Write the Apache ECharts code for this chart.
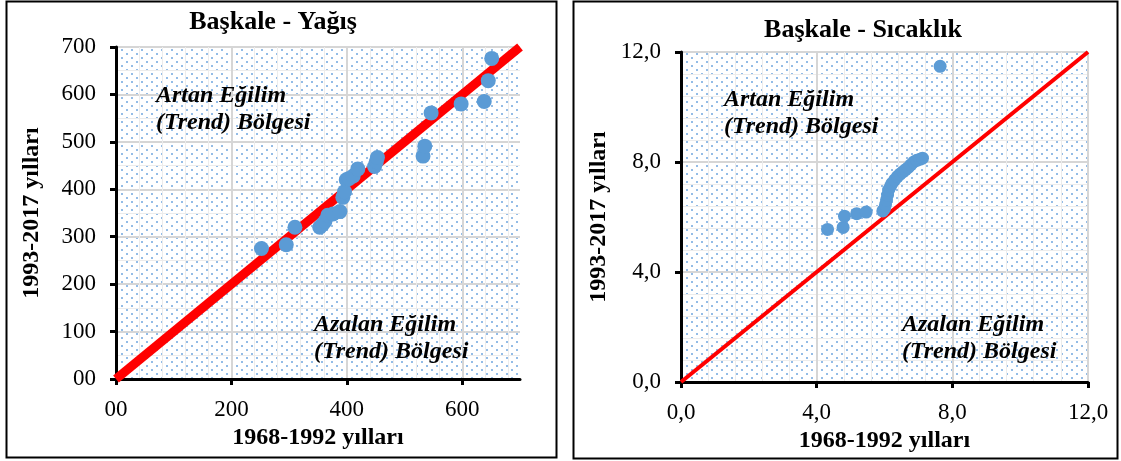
<!DOCTYPE html>
<html>
<head>
<meta charset="utf-8">
<script src="https://cdn.jsdelivr.net/npm/echarts@6/dist/echarts.min.js"></script>
<style>
html, body { margin: 0; padding: 0; background: #fff; }
#chart { width: 1121px; height: 461px; }
</style>
</head>
<body>
<div id="chart"></div>
<script>
// Başkale: sorted annual precipitation (mm), 1968-1992 vs 1993-2017
const rainFirstHalf  = [252, 295, 310, 353, 358, 362, 367, 376, 388, 393, 396, 399, 404, 411, 419, 448, 451, 453, 532, 535, 546, 598, 638, 645, 651];
const rainSecondHalf = [275, 283, 320, 320, 326, 332, 345, 348, 353, 383, 395, 420, 423, 428, 443, 448, 458, 467, 470, 491, 561, 580, 585, 629, 676];

// Başkale: sorted annual mean temperature (°C), 1968-1992 vs 1993-2017
const tempFirstHalf  = [4.32, 4.78, 4.82, 5.18, 5.46, 5.95, 6.00, 6.03, 6.06, 6.09, 6.12, 6.17, 6.22, 6.30, 6.38, 6.46, 6.55, 6.62, 6.70, 6.78, 6.86, 6.95, 7.05, 7.12, 7.64];
const tempSecondHalf = [5.55, 5.62, 6.03, 6.12, 6.18, 6.22, 6.30, 6.45, 6.62, 6.80, 6.98, 7.10, 7.22, 7.35, 7.47, 7.56, 7.65, 7.72, 7.80, 7.90, 8.00, 8.06, 8.10, 8.14, 11.48];

// axis ranges and tick positions
const rainMax = 700;
const rainXTicks = [0, 200, 400, 600];
const rainYTicks = [0, 100, 200, 300, 400, 500, 600, 700];
const tempMax = 12;
const tempTicks = [0, 4, 8, 12];

const titles = ['Başkale - Yağış', 'Başkale - Sıcaklık'];
const xName = '1968-1992 yılları';
const yName = '1993-2017 yılları';
const upperZone = ['Artan Eğilim', '(Trend) Bölgesi'];
const lowerZone = ['Azalan Eğilim', '(Trend) Bölgesi'];

const SERIF = '"Liberation Serif", "Times New Roman", serif';

// fine dotted fill for the plotting area
function dotPattern() {
  const w = 10, h = 8;
  const c = document.createElement('canvas');
  c.width = w; c.height = h;
  const g = c.getContext('2d');
  g.fillStyle = '#ffffff';
  g.fillRect(0, 0, w, h);
  g.fillStyle = '#94bce6';
  g.fillRect(1, 1, 2, 2);
  g.fillRect(6, 5, 2, 2);
  return { image: c, repeat: 'repeat' };
}

const pairs = (a, b) => a.map((v, i) => [v, b[i]]);
const rainLabel = v => (v === 0 ? '00' : String(v));
const tempLabel = v => v.toFixed(1).replace('.', ',');

function valueAxis(gridIndex, max, interval, ticks, minorSplit, fmt, name, isY, nameGap) {
  return {
    type: 'value', gridIndex, min: 0, max, interval,
    name, nameLocation: 'middle', nameGap, nameRotate: isY ? 90 : 0,
    nameTextStyle: { fontFamily: SERIF, fontWeight: 'bold', fontSize: 24, color: '#000' },
    axisLine: { show: true, onZero: false, lineStyle: { color: '#000', width: 3 } },
    axisTick: { show: true, inside: false, length: 6, customValues: ticks, lineStyle: { color: '#000', width: 3 } },
    axisLabel: { customValues: ticks, formatter: fmt, margin: isY ? 20 : 19,
      fontFamily: SERIF, fontSize: 23, color: '#000' },
    splitLine: { show: true, lineStyle: { color: '#d6d6d6', width: 2 } },
    minorTick: { show: false, splitNumber: minorSplit },
    minorSplitLine: { show: true, lineStyle: { color: '#ececec', width: 1 } }
  };
}

function zoneText(x, y, lines) {
  return {
    type: 'text', left: x, top: y, z: 50,
    style: {
      text: lines.join('\n'), fill: '#000',
      font: 'italic bold 24px ' + SERIF, lineHeight: 27
    }
  };
}

const chart = echarts.init(document.getElementById('chart'), null, { renderer: 'canvas' });
chart.setOption({
  animation: false,
  backgroundColor: '#fff',
  title: [
    { text: titles[0], left: 268, top: 4, textAlign: 'center',
      textStyle: { fontFamily: SERIF, fontWeight: 'bold', fontSize: 26, color: '#000' } },
    { text: titles[1], left: 858, top: 12, textAlign: 'center',
      textStyle: { fontFamily: SERIF, fontWeight: 'bold', fontSize: 26, color: '#000' } }
  ],
  grid: [
    { left: 116, top: 47, width: 404, height: 332, show: true, borderWidth: 0, backgroundColor: dotPattern() },
    { left: 681, top: 52, width: 407, height: 330, show: true, borderWidth: 0, backgroundColor: dotPattern() }
  ],
  xAxis: [
    valueAxis(0, rainMax, 200, rainXTicks, 5, rainLabel, xName, false, 47),
    valueAxis(1, tempMax, 4, tempTicks, 5, tempLabel, xName, false, 45)
  ],
  yAxis: [
    valueAxis(0, rainMax, 100, rainYTicks, 2, rainLabel, yName, true, 72),
    valueAxis(1, tempMax, 4, tempTicks, 5, tempLabel, yName, true, 70)
  ],
  graphic: [
    { type: 'rect', shape: { x: 6.5, y: 1.5, width: 550, height: 456 },
      style: { fill: 'none', stroke: '#000', lineWidth: 2 }, z: 100 },
    { type: 'rect', shape: { x: 573.5, y: 1.5, width: 544, height: 457 },
      style: { fill: 'none', stroke: '#000', lineWidth: 2 }, z: 100 },
    zoneText(156, 82, upperZone),
    zoneText(314, 311, lowerZone),
    zoneText(724, 86, upperZone),
    zoneText(902, 311, lowerZone)
  ],
  series: [
    { type: 'line', xAxisIndex: 0, yAxisIndex: 0, symbol: 'none',
      data: [[0, 0], [rainMax, rainMax]], lineStyle: { color: '#ff0000', width: 9 }, z: 2 },
    { type: 'scatter', xAxisIndex: 0, yAxisIndex: 0, symbolSize: 15,
      itemStyle: { color: '#5b9bd5', opacity: 1 }, data: pairs(rainFirstHalf, rainSecondHalf), z: 3 },
    { type: 'line', xAxisIndex: 1, yAxisIndex: 1, symbol: 'none',
      data: [[0, 0], [tempMax, tempMax]], lineStyle: { color: '#ff0000', width: 4 }, z: 2 },
    { type: 'scatter', xAxisIndex: 1, yAxisIndex: 1, symbolSize: 13,
      itemStyle: { color: '#5b9bd5', opacity: 1 }, data: pairs(tempFirstHalf, tempSecondHalf), z: 3 }
  ]
});
</script>
</body>
</html>
